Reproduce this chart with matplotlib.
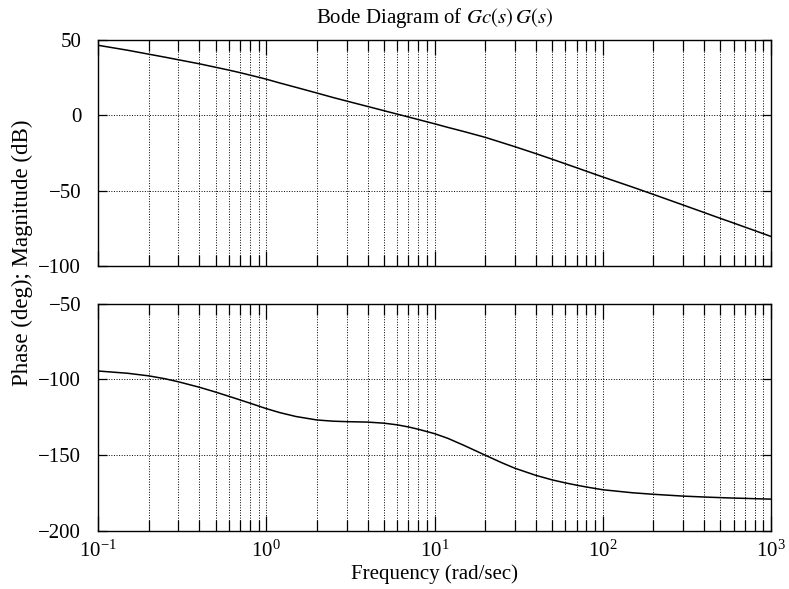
import matplotlib
matplotlib.use("Agg")
import matplotlib.pyplot as plt
import matplotlib.ticker as mticker
import numpy as np

# values (rad/sec, dB, deg)
freq = [0.1, 0.15, 0.2, 0.25, 0.3, 0.4, 0.5, 0.6, 0.7, 0.8, 0.9, 1, 1.2, 1.5, 2, 2.5,
        3, 4, 5, 6, 7, 8, 10, 12, 15, 20, 25, 30, 40, 50, 60, 70, 80, 100,
        150, 200, 300, 400, 500, 600, 700, 800, 1000]
mag_db = [46.5, 43.2, 40.6, 38.6, 36.9, 34.2, 31.9, 30.0, 28.3, 26.7, 25.3, 24.0,
          21.5, 18.6, 14.8, 11.8, 9.5, 5.9, 3.1, 0.8, -1.1, -2.8, -5.6, -8.0,
          -10.8, -14.6, -18.0, -20.8, -25.4, -29.1, -32.2, -34.8, -37.1, -40.9,
          -47.6, -52.5, -59.5, -64.5, -68.4, -71.5, -74.2, -76.5, -80.4]
phase_deg = [-94.5, -96.0, -97.7, -99.6, -101.6, -105.2, -108.4, -111.2, -113.6,
             -115.7, -117.6, -119.3, -121.9, -124.5, -126.8, -127.6, -127.9, -128.2,
             -128.9, -130.0, -131.4, -132.9, -135.8, -138.9, -143.6, -150.0, -154.9,
             -158.6, -163.3, -166.3, -168.3, -169.8, -171.0, -172.8, -174.8, -175.8,
             -177.0, -177.6, -178.0, -178.3, -178.5, -178.7, -179.0]

mag_ticks = [-100, -50, 0, 50]
phase_ticks = [-200, -150, -100, -50]

plt.rcParams['font.family'] = ['Liberation Serif', 'DejaVu Serif']
plt.rcParams['mathtext.fontset'] = 'stix'
plt.rcParams['font.size'] = 15


def style_axis(ax, yticks):
    ax.set_xscale('log')
    ax.set_xlim(0.1, 1000)
    ax.set_ylim(yticks[0], yticks[-1])
    ax.set_yticks(yticks)
    ax.xaxis.set_major_locator(mticker.LogLocator(base=10, numticks=10))
    ax.xaxis.set_minor_locator(mticker.LogLocator(base=10, subs=np.arange(2, 10), numticks=20))
    ax.xaxis.set_minor_formatter(mticker.NullFormatter())
    ax.tick_params(which='both', direction='in', top=True, right=True, width=0.9)
    ax.tick_params(which='major', axis='x', length=11)
    ax.tick_params(which='minor', axis='x', length=8)
    ax.tick_params(which='major', axis='y', length=6.5, pad=12)
    ax.grid(True, which='major', color='black', linestyle=':', linewidth=0.7)
    ax.grid(True, which='minor', axis='x', color='black', linestyle=':', linewidth=0.7)
    for s in ax.spines.values():
        s.set_linewidth(1.0)


fig = plt.figure(figsize=(7.89, 5.89), dpi=100)
ax1 = fig.add_axes([0.1242, 0.5484, 0.853, 0.3837])
ax2 = fig.add_axes([0.1242, 0.0985, 0.853, 0.3862])

ax1.plot(freq, mag_db, color='black', linewidth=1.1)
style_axis(ax1, mag_ticks)
ax1.tick_params(axis='x', labelbottom=False)
ax1.set_title(r'Bode Diagram of $Gc(s)\,G(s)$', fontsize=15, pad=12)

ax2.plot(freq, phase_deg, color='black', linewidth=1.1)
style_axis(ax2, phase_ticks)
ax2.tick_params(axis='x', pad=7)
ax2.set_xlabel('Frequency (rad/sec)', fontsize=15, labelpad=2)

fig.text(0.028, 0.571, 'Phase (deg); Magnitude (dB)', rotation=90,
         ha='center', va='center', fontsize=16.5)

fig.savefig('out.png', dpi=100)
